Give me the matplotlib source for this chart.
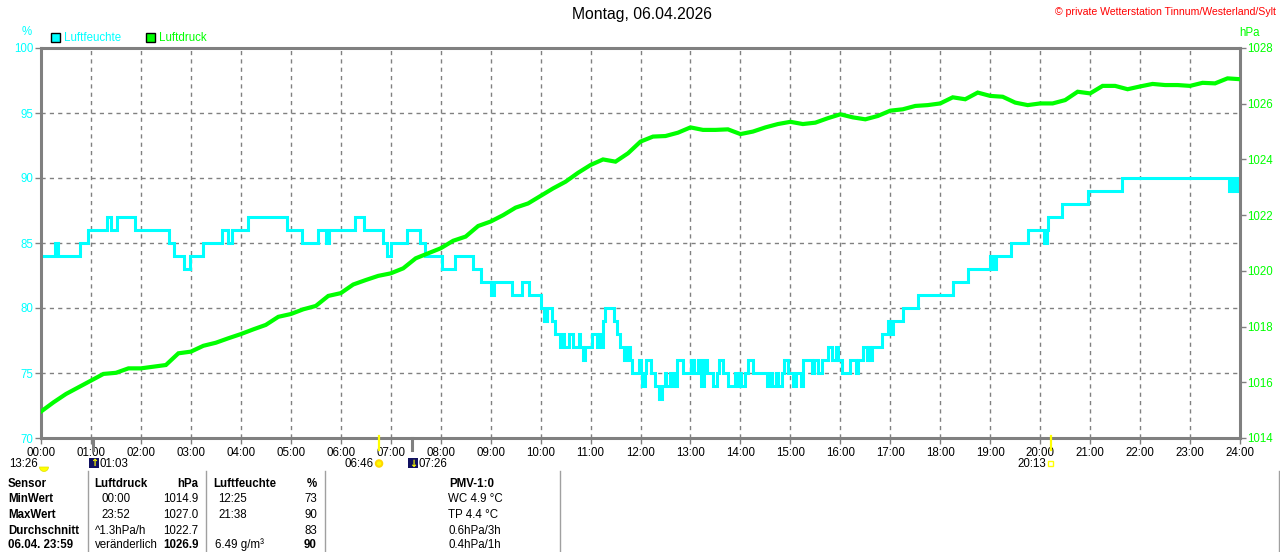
import matplotlib
matplotlib.use("Agg")
import matplotlib.pyplot as plt
import numpy as np
from matplotlib.patches import Rectangle, Circle, Wedge

plt.rcParams['font.family'] = ['Liberation Sans', 'DejaVu Sans']

# ---------------- data ----------------
title = "Montag, 06.04.2026"
copyright_txt = "© private Wetterstation Tinnum/Westerland/Sylt"

hour_labels = [f"{h:02d}:00" for h in range(25)]

# humidity (%) step changes: time in hours -> value from that time on
hum_t = [0.00, 0.28, 0.34, 0.78, 0.95, 1.33, 1.40, 1.53, 1.88, 2.57,
         2.67, 2.86, 2.99, 3.25, 3.62, 3.74, 3.82, 4.14, 4.92, 5.22,
         5.54, 5.70, 5.76, 6.28, 6.47, 6.85, 6.93, 7.00, 7.32, 7.59,
         7.69, 8.02, 8.29, 8.64, 8.81, 9.00, 9.07, 9.42, 9.62, 9.76,
         10.00, 10.07, 10.13, 10.23, 10.29, 10.39, 10.44, 10.47, 10.56, 10.65,
         10.76, 10.79, 10.85, 10.89, 11.02, 11.12, 11.16, 11.20, 11.24, 11.29,
         11.46, 11.52, 11.59, 11.66, 11.72, 11.79, 11.82, 11.96, 12.00, 12.04,
         12.10, 12.12, 12.21, 12.29, 12.38, 12.44, 12.49, 12.52, 12.59, 12.62,
         12.67, 12.71, 12.74, 12.86, 13.02, 13.07, 13.16, 13.22, 13.27, 13.34,
         13.46, 13.54, 13.57, 13.66, 13.76, 13.89, 13.94, 13.98, 14.02, 14.09,
         14.16, 14.26, 14.53, 14.59, 14.63, 14.71, 14.76, 14.83, 14.88, 14.96,
         15.05, 15.11, 15.21, 15.26, 15.43, 15.47, 15.56, 15.63, 15.76, 15.83,
         15.91, 15.96, 16.03, 16.19, 16.31, 16.36, 16.46, 16.53, 16.56, 16.59,
         16.63, 16.84, 16.96, 16.99, 17.05, 17.26, 17.55, 18.25, 18.56, 18.99,
         19.06, 19.11, 19.41, 19.76, 20.07, 20.13, 20.16, 20.43, 20.96, 21.63,
         23.78, 23.83, 23.86, 23.91, 23.96, 24.00]
hum_v = [84, 85, 84, 85, 86, 87, 86, 87, 86, 85,
         84, 83, 84, 85, 86, 85, 86, 87, 86, 85,
         86, 85, 86, 87, 86, 85, 84, 85, 86, 85,
         84, 83, 84, 83, 82, 81, 82, 81, 82, 81,
         80, 79, 80, 79, 78, 77, 78, 77, 78, 77,
         78, 77, 76, 77, 78, 77, 78, 77, 79, 80,
         79, 78, 77, 76, 77, 76, 75, 76, 75, 74,
         75, 76, 75, 74, 73, 74, 75, 74, 75, 74,
         75, 74, 76, 75, 76, 75, 76, 74, 76, 75,
         74, 75, 76, 75, 74, 75, 74, 75, 74, 75,
         76, 75, 74, 75, 74, 75, 74, 75, 76, 75,
         74, 75, 74, 76, 75, 76, 75, 76, 77, 76,
         77, 76, 75, 76, 75, 76, 77, 76, 77, 76,
         77, 78, 79, 78, 79, 80, 81, 82, 83, 84,
         83, 84, 85, 86, 85, 86, 87, 88, 89, 90,
         89, 90, 89, 90, 89, 90]

# air pressure (hPa), read every 15 minutes from 00:00 to 24:00
pres_v = [1014.95, 1015.28, 1015.58, 1015.82, 1016.06, 1016.30, 1016.34, 1016.50,
          1016.50, 1016.56, 1016.62, 1017.04, 1017.10, 1017.31, 1017.42, 1017.58,
          1017.73, 1017.90, 1018.06, 1018.35, 1018.45, 1018.62, 1018.74, 1019.10,
          1019.20, 1019.51, 1019.67, 1019.82, 1019.91, 1020.09, 1020.45, 1020.63,
          1020.81, 1021.08, 1021.23, 1021.61, 1021.77, 1022.00, 1022.27, 1022.42,
          1022.69, 1022.96, 1023.20, 1023.52, 1023.80, 1024.00, 1023.92, 1024.22,
          1024.64, 1024.82, 1024.84, 1024.96, 1025.15, 1025.06, 1025.06, 1025.08,
          1024.91, 1025.00, 1025.15, 1025.27, 1025.35, 1025.27, 1025.32, 1025.48,
          1025.62, 1025.51, 1025.44, 1025.56, 1025.75, 1025.80, 1025.92, 1025.95,
          1026.01, 1026.23, 1026.16, 1026.40, 1026.28, 1026.25, 1026.04, 1025.95,
          1026.01, 1026.01, 1026.13, 1026.43, 1026.37, 1026.64, 1026.64, 1026.52,
          1026.62, 1026.71, 1026.67, 1026.67, 1026.64, 1026.75, 1026.73, 1026.91,
          1026.88]
pres_t = np.linspace(0, 24, len(pres_v))

hum_ticks = [70, 75, 80, 85, 90, 95, 100]
pres_ticks = [1014, 1016, 1018, 1020, 1022, 1024, 1026, 1028]

# astronomical events (hours)
moonrise_t = 1 + 3 / 60      # 01:03
sunrise_t = 6 + 46 / 60      # 06:46
moonset_t = 7 + 26 / 60      # 07:26
sunset_t = 20 + 13 / 60      # 20:13

table_rows = [
    ["Sensor", "Luftdruck", "hPa", "Luftfeuchte", "%", "PMV-1:0"],
    ["MinWert", "00:00", "1014.9", "12:25", "73", "WC 4.9 °C"],
    ["MaxWert", "23:52", "1027.0", "21:38", "90", "TP 4.4 °C"],
    ["Durchschnitt", "^1.3hPa/h", "1022.7", "", "83", "0.6hPa/3h"],
    ["06.04. 23:59", "veränderlich", "1026.9", "6.49 g/m³", "90", "0.4hPa/1h"],
]

# ---------------- style ----------------
CYAN = "#00FFFF"
GREEN = "#00FF00"
GRAY = "#808080"
W, H = 1280, 552
FS = 8.3

fig = plt.figure(figsize=(W / 100, H / 100), dpi=100)
fig.patch.set_facecolor("white")

L, T, R, B = 41, 48, 1240, 438
ax = fig.add_axes([L / W, 1 - B / H, (R - L) / W, (B - T) / H])
ax.set_xlim(0, 24)
ax.set_ylim(70, 100)

# grid
ax.set_xticks(range(25))
ax.set_xticklabels(hour_labels)
ax.set_yticks(hum_ticks)
ax.set_yticklabels([str(v) for v in hum_ticks])
ax.grid(True, color=GRAY, linestyle=(0, (3, 3)), linewidth=1.0, zorder=0)
ax.set_axisbelow(True)

ax.tick_params(axis="x", colors=GRAY, labelcolor="black", length=4, width=1,
               labelsize=FS, pad=2.5)
ax.tick_params(axis="y", colors=GRAY, labelcolor=CYAN, length=4, width=1,
               labelsize=FS, pad=1.5)
for s in ax.spines.values():
    s.set_color(GRAY)
    s.set_linewidth(2.2)
    s.set_zorder(5)

# humidity step line
ax.step(hum_t, hum_v, where="post", color=CYAN, lw=2.2, zorder=3,
        solid_joinstyle="miter")

# pressure on twin axis
ax2 = ax.twinx()
ax2.set_ylim(1014, 1028)
ax2.set_yticks(pres_ticks)
ax2.set_yticklabels([str(v) for v in pres_ticks])
ax2.tick_params(axis="y", colors=GRAY, labelcolor=GREEN, length=4, width=1,
                labelsize=FS, pad=1.5)
for s in ax2.spines.values():
    s.set_visible(False)
ax2.plot(pres_t, pres_v, color=GREEN, lw=3.0, zorder=4, solid_joinstyle="miter")

# event ticks below the x axis
trans = ax.get_xaxis_transform()
for t in (moonrise_t, moonset_t):
    ax.plot([t, t], [0, -12 / 390], transform=trans, color=GRAY, lw=2.2,
            clip_on=False, zorder=6)
for t in (sunrise_t, sunset_t):
    ax.plot([t, t], [2 / 390, -12 / 390], transform=trans, color="#FFFF00",
            lw=1.6, clip_on=False, zorder=6)

# ---------------- overlay in pixel coordinates ----------------
ov = fig.add_axes([0, 0, 1, 1], zorder=10)
ov.set_xlim(0, W)
ov.set_ylim(H, 0)
ov.axis("off")
ov.patch.set_alpha(0)

def tx(t):
    return L + t * (R - L) / 24

ov.text(642, 15, title, ha="center", va="center", fontsize=11.3, color="black")
ov.text(1276, 12, copyright_txt, ha="right", va="center", fontsize=7.6, color="#FF0000")
ov.text(27, 32, "%", ha="center", va="center", fontsize=FS, color=CYAN)
ov.text(1250, 33, "hPa", ha="center", va="center", fontsize=FS, color=GREEN)

# legend
ov.add_patch(Rectangle((50.5, 33), 9, 9, facecolor=CYAN, edgecolor="black", lw=1))
ov.text(64, 38, "Luftfeuchte", ha="left", va="center", fontsize=FS, color=CYAN)
ov.add_patch(Rectangle((145.5, 33), 9, 9, facecolor=GREEN, edgecolor="black", lw=1))
ov.text(159, 38, "Luftdruck", ha="left", va="center", fontsize=FS, color=GREEN)

# astronomical row
yrow = 464
ov.text(38, yrow, "13:26", ha="right", va="center", fontsize=FS, color="black")
ov.add_patch(Wedge((44, 467), 4.5, 0, 180, facecolor="#FFFF00", edgecolor="#E0E000", lw=0.5))

xm = tx(moonrise_t)
ov.add_patch(Rectangle((xm - 4.5, 458), 10, 10, facecolor="#101060", edgecolor="none"))
ov.text(xm + 0.5, 463.5, "↑", ha="center", va="center", fontsize=7, color="#FFFF00",
        fontweight="bold", family="DejaVu Sans")
ov.text(xm + 6, yrow, "01:03", ha="left", va="center", fontsize=FS, color="black")

xs = tx(sunrise_t)
ov.add_patch(Circle((xs, 463.5), 3.2, facecolor="#FFFF00", edgecolor="#FFD800", lw=1.5))
ov.text(xs - 5, yrow, "06:46", ha="right", va="center", fontsize=FS, color="black")

xo = tx(moonset_t)
ov.add_patch(Rectangle((xo - 4.5, 458), 10, 10, facecolor="#101060", edgecolor="none"))
ov.text(xo + 0.5, 463.5, "↓", ha="center", va="center", fontsize=7, color="#FFFF00",
        fontweight="bold", family="DejaVu Sans")
ov.text(xo + 6, yrow, "07:26", ha="left", va="center", fontsize=FS, color="black")

xe = tx(sunset_t)
ov.add_patch(Rectangle((xe - 2.5, 461), 5, 5, facecolor="none", edgecolor="#FFFF00", lw=1))
ov.text(xe - 5, yrow, "20:13", ha="right", va="center", fontsize=FS, color="black")

# table
for xsep in (88, 206, 324.5, 559.5, 1278.5):
    ov.plot([xsep, xsep], [471, H], color="#A0A0A0", lw=1)

row_y = [484, 499.5, 515, 530.5, 545]
for i, row in enumerate(table_rows):
    y = row_y[i]
    head = i == 0
    last = i == len(table_rows) - 1
    fw = "bold" if head else "normal"
    ov.text(8, y, row[0], ha="left", va="center", fontsize=FS, fontweight="bold")
    x1 = 94.5 if (head or i >= 3) else 101
    ov.text(x1, y, row[1], ha="left", va="center", fontsize=FS, fontweight=fw)
    ov.text(198.5, y, row[2], ha="right", va="center", fontsize=FS,
            fontweight="bold" if (head or last) else "normal")
    x3 = 213 if head else (215 if last else 218.5)
    ov.text(x3, y, row[3], ha="left", va="center", fontsize=FS, fontweight=fw)
    ov.text(317, y, row[4], ha="right", va="center", fontsize=FS,
            fontweight="bold" if (head or last) else "normal")
    if head:
        ov.text(472, y, row[5], ha="center", va="center", fontsize=FS, fontweight="bold")
    else:
        ov.text(448.5, y, row[5], ha="left", va="center", fontsize=FS)

fig.savefig("out.png", dpi=100, facecolor="white")
